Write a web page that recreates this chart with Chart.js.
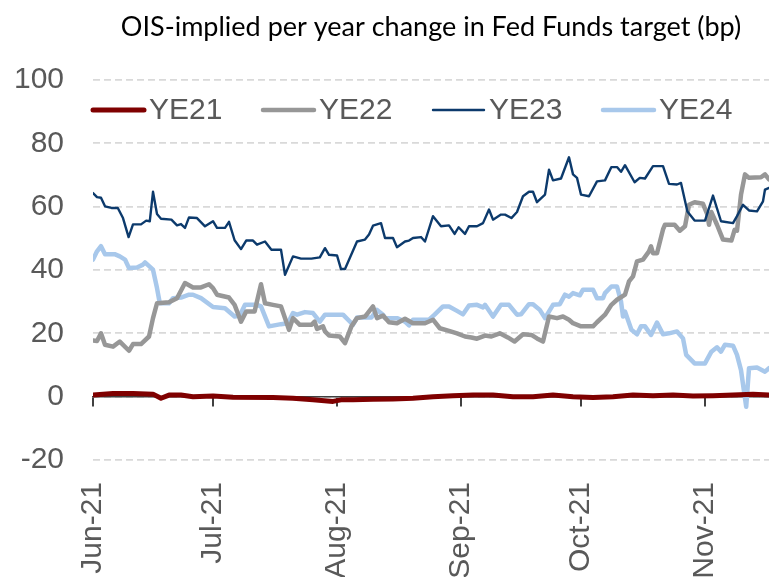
<!DOCTYPE html>
<html><head><meta charset="utf-8">
<script src="https://cdn.jsdelivr.net/npm/chart.js@4.4.1/dist/chart.umd.min.js"></script>
<style>html,body{margin:0;padding:0;background:#fff;overflow:hidden}</style>
</head><body>
<canvas id="c" width="769" height="577"></canvas>
<script>
const chartTitle = 'OIS-implied per year change in Fed Funds target (bp)';
const monthDays = [0, 30, 61, 92, 122, 153];          // days after 1 Jun 2021
const monthLabels = ['Jun-21', 'Jul-21', 'Aug-21', 'Sep-21', 'Oct-21', 'Nov-21'];
const yTicks = [-20, 0, 20, 40, 60, 80, 100];
const seriesNames = ['YE21', 'YE22', 'YE23', 'YE24'];

const ye21Days = [0,5,10,15,17,19,22,25,30,35,45,50,55,60,62,65,70,75,80,85,90,95,100,105,110,115,120,125,130,135,140,145,150,155,160,165,169];
const ye21 = [0.5,1,1,0.8,-0.5,0.5,0.5,0,0.2,-0.2,-0.3,-0.5,-1,-1.5,-1,-1,-0.8,-0.7,-0.5,0,0.3,0.5,0.5,0,0,0.5,0,-0.3,0,0.5,0.3,0.5,0.2,0.3,0.5,0.8,0.5];

const ye22Days = [0,1,2,3,5,6.7,9,10,12,14,
  15,16,19,21,23,25,27,29,30,31,
  34,35.4,37,38.3,40.4,42,43,45,47,49,
  50,51.7,54.6,55.4,56,57.5,58,59,61.7,63,
  64.6,66,68,70,71,72.5,74,76,78,80,
  83,85,86.7,89,91,93,94.6,96,98,99.6,
  101.7,103.7,105.4,107.5,109.6,111,112.5,114,116,117.5,
  119,120,122,125,126,128,129.6,131,133,134,
  135,136,137.5,139,139.5,140,141,142.5,143,145.4,
  146.7,148,149,150.4,152.5,153.6,154,154.6,156,157.5,
  159.6,160.4,161,162,163,164,167,168,169];
const ye22 = [17.7,17.6,20,16.4,15.8,17.4,14.5,16.6,16.6,19,
  24.8,29.5,29.8,31.1,35.9,34.5,34.5,35.5,34.3,32.2,
  31.3,29,23.7,26.9,26.9,35.5,29.5,29,28.5,21.1,
  24.8,22.7,22.7,23.7,21.4,22.2,20.6,19.3,19,16.9,
  22.2,24.8,25.3,28.5,24.8,25.6,23.5,23.2,24.6,23.2,
  23.2,24.3,21.6,20.8,20,19,18.7,18.3,19.3,19,
  20,18.7,17.4,19.7,19.5,18.4,17.4,25.3,24.8,25.3,
  24.3,23.2,22.2,22.2,23.5,25.9,29,30.6,32.2,36.4,
  38,42.7,43.3,45.9,47.5,45.3,45.3,52.8,54.3,54.3,
  52.4,53.8,60.6,61.4,60.9,57.5,54.3,58.3,54.3,49.6,
  49.3,52.7,52.4,63.8,70.2,69.1,69.3,70.2,68.6];

const ye23Days = [0,1,2,3,4.6,6.2,7.5,8.9,10,12,
  13.3,14.2,15,16,17,19.6,21,22,23,24,
  26,28,30,31,33,34,35.4,37,38.3,40,
  41,43,44.6,47,48,50,52,54.6,56.7,58,
  59,61,62,63,66,68,69,70,72,73,
  75,76,78,79,80,82,83,85,87,89,
  90.4,91.4,93,94,96,97.5,99,100,102,103,
  104.6,106,107.5,109,110,111,113,114,115,117,
  119,120,121,122,124,126,128,129.6,131,132,
  133,135.4,136.7,138,140,142.5,144,146,147,148.6,
  150.4,153,155,157,160,161,162.5,164,166,167.5,
  168,169];
const ye23 = [64.3,63,62.8,60.1,59.6,59.6,56.4,50.4,54.4,54.4,
  55.6,55.4,64.7,57.7,56.2,55.9,54.1,54.5,53.3,56.6,
  56.4,53.8,55.4,53.3,53.3,55.2,49.4,46.6,49.3,49.3,
  48,49,46.4,46.4,38.5,44.3,43.6,43.6,44,46.9,
  44.8,44.6,40.3,40.3,49,49.6,51.2,54,54.8,50.1,
  50.1,47.2,49,49.3,50.1,50.4,49,57,53.8,54.1,
  51.4,53.5,51.4,53.8,53.8,54.8,59.1,55.9,57.5,57.5,
  56.4,58.3,63.3,64.7,64.7,61.4,63.8,71.7,68.3,68.9,
  75.6,70.2,69.1,63.8,63.3,68,68.3,72.5,72.5,71,
  73.1,67.7,69.1,68.9,72.8,72.8,67.2,67,67.5,58.5,
  55.6,55.6,63.5,55.4,54.8,57,60.6,58.8,58.5,61.7,
  65.4,65.9];

const ye24Days = [0,1,2,3,5.4,6.7,8,9,11,12.5,
  13,15,16,16.7,19,20,22,24,25,27,
  30,33,35.4,36.7,38,41,42,44,47,48.7,
  50,51,53,55,56.7,58,62.5,65,66,69.6,
  71,72.5,73,76,78,79,80,84,85.4,87.5,
  89,91,92.5,94,96,97.5,98,100,102,104,
  106,107,109,110,111.7,113,115,116.7,118,119,
  120,121.7,122.5,125,126,127.5,128,129.6,131,132,
  132.5,133,134.6,136,137,138,139.5,141,142.5,144,
  146,147.5,148.3,150.4,153,154.6,156,157,158,160,
  161,162,163.3,164,166,168,169];
const ye24 = [43.3,45.9,47.5,45,45,44.3,43.3,40.6,40.8,41.7,
  42.4,40.1,34.3,29.5,29.5,31.1,31.3,32.2,32.2,31.1,
  28.3,27.9,25.3,25.6,29,29,28.5,22.2,22.9,23.2,
  26.4,25.9,26.7,26.4,23.7,25.9,25.9,22.7,25,25,
  27.4,25.9,24.8,24.8,23.7,22.5,24.3,24.3,25.9,28.5,
  28.5,27.1,26,28.8,29,28.2,29,25.3,29,29,
  25.9,26,29.2,29.2,27.4,24.8,29,29.2,32.2,31.6,
  32.7,32,33.8,33.8,31.1,31.1,32.7,34.8,34.8,30.1,
  25.3,26.9,21.1,19.7,22.2,22.2,19.5,23.4,19.7,20,
  20.6,18.4,13.2,10.5,10.5,14.2,15.6,14.2,16.4,16.1,
  13.2,8.4,-3.2,9,9.2,7.9,9];

function pts(days, vals) { return days.map((d, i) => ({ x: d, y: vals[i] })); }
const monthTicks = (s) => { s.ticks = monthDays.map(v => ({ value: v })); };

const TICK_FONT = "30px 'Liberation Sans', Arial, sans-serif";

// Legend drawn inside the plot area, one row, line sample + label
const lineLegend = {
  id: 'lineLegend',
  afterDraw(chart) {
    const { ctx, chartArea } = chart;
    const y = 110;
    ctx.save();
    ctx.font = TICK_FONT;
    ctx.textBaseline = 'middle';
    ctx.textAlign = 'left';
    chart.data.datasets.forEach((ds, i) => {
      const x0 = chartArea.left - 2 + i * 170;
      ctx.beginPath();
      ctx.strokeStyle = ds.borderColor;
      ctx.lineWidth = ds.borderWidth;
      ctx.lineCap = 'round';
      ctx.moveTo(x0 + 2, y);
      ctx.lineTo(x0 + 53, y);
      ctx.stroke();
      ctx.fillStyle = '#595959';
      ctx.fillText(ds.label, x0 + 58, y + 1);
    });
    ctx.restore();
  }
};

Chart.defaults.font.family = "'Liberation Sans', Arial, sans-serif";
Chart.defaults.color = '#595959';

const common = { pointRadius: 0, pointHoverRadius: 0, tension: 0, borderJoinStyle: 'round', borderCapStyle: 'round', fill: false };

new Chart(document.getElementById('c'), {
  type: 'line',
  data: {
    datasets: [
      Object.assign({ label: seriesNames[0], data: pts(ye21Days, ye21), borderColor: '#7f0000', backgroundColor: '#7f0000', borderWidth: 5, order: 0 }, common),
      Object.assign({ label: seriesNames[1], data: pts(ye22Days, ye22), borderColor: '#979797', backgroundColor: '#979797', borderWidth: 4.5, order: 2 }, common),
      Object.assign({ label: seriesNames[2], data: pts(ye23Days, ye23), borderColor: '#0c3a6c', backgroundColor: '#0c3a6c', borderWidth: 2.4, order: 1 }, common),
      Object.assign({ label: seriesNames[3], data: pts(ye24Days, ye24), borderColor: '#a8c8eb', backgroundColor: '#a8c8eb', borderWidth: 4.5, order: 3 }, common)
    ]
  },
  options: {
    responsive: false,
    animation: false,
    devicePixelRatio: 1,
    layout: { padding: { left: 14, right: 0, top: 0, bottom: 0 } },
    plugins: {
      title: {
        display: true, text: chartTitle, color: '#000', fullSize: false,
        font: { family: 'Lato', size: 27, weight: 'normal' },
        padding: { top: 11, bottom: 36.6 }
      },
      legend: { display: false },
      tooltip: { enabled: false }
    },
    scales: {
      x: {
        type: 'linear', min: 0, max: 169,
        afterBuildTicks: monthTicks,
        afterFit: (s) => { s.paddingLeft = 0; s.paddingRight = 0; s.height = 117; },
        grid: { display: false },
        border: { display: false },
        ticks: {
          autoSkip: false, minRotation: 90, maxRotation: 90, padding: 14,
          font: { size: 30 }, color: '#595959',
          callback: (v) => monthLabels[monthDays.indexOf(v)]
        }
      },
      x0: {
        type: 'linear', min: 0, max: 169, position: { y: 0 },
        afterBuildTicks: monthTicks,
        afterFit: (s) => { s.paddingLeft = 0; s.paddingRight = 0; s.height = 0; },
        grid: { display: true, drawOnChartArea: false, drawTicks: true, tickLength: 9, color: '#404040', lineWidth: 2 },
        border: { display: true, color: '#404040', width: 1.5 },
        ticks: { display: false }
      },
      y: {
        min: -20, max: 100,
        afterBuildTicks: (s) => { s.ticks = yTicks.map(v => ({ value: v })); },
        afterFit: (s) => { s.width = 79; s.paddingTop = 0; s.paddingBottom = 0; },
        grid: { color: '#d9d9d9', lineWidth: 1.7, drawTicks: false },
        border: { display: false, dash: [7, 4] },
        ticks: { padding: 29, font: { size: 30 }, color: '#595959' }
      }
    }
  },
  plugins: [lineLegend]
});
</script>
</body></html>
